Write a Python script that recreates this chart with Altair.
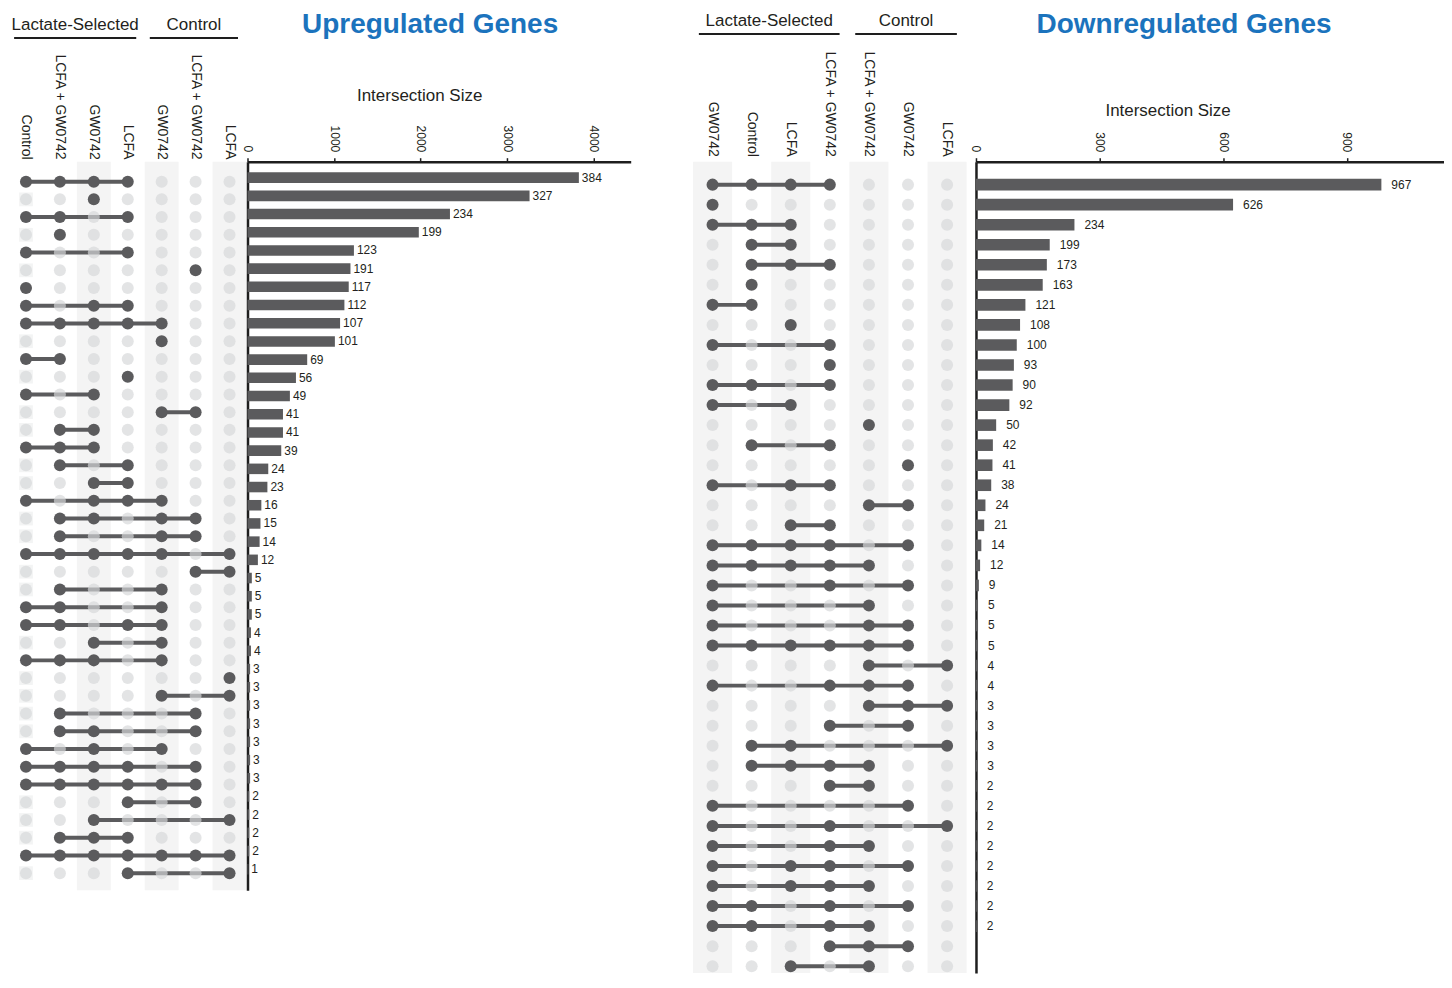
import altair as alt
import pandas as pd

# ------------------------------------------------------------------ data
up_columns = ["Control", "LCFA + GW0742", "GW0742", "LCFA",
              "GW0742", "LCFA + GW0742", "LCFA"]
up_groups = ["Lactate-Selected"] * 4 + ["Control"] * 3
# active columns of every intersection row (1-based column indices)
up_sets = ["1234", "3", "124", "2", "14", "6", "1", "134", "12345", "5",
           "12", "4", "13", "56", "23", "123", "24", "34", "1345",
           "2356", "256", "123457", "67", "25", "125", "1245", "35", "1235",
           "7", "57", "26", "236", "135", "12346", "123456", "46", "37",
           "234", "1234567", "47"]
up_sizes = [3830, 3260, 2340, 1980, 1230, 1190, 1170, 1120, 1070, 1010,
            690, 560, 490, 410, 410, 390, 240, 230, 160, 150, 140, 120,
            50, 50, 50, 40, 40, 30, 30, 30, 30, 30, 30, 30, 20, 20, 20, 20, 10]
up_labels = ["384", "327", "234", "199", "123", "191", "117", "112", "107", "101",
             "69", "56", "49", "41", "41", "39", "24", "23", "16", "15", "14", "12",
             "5", "5", "5", "4", "4", "3", "3", "3", "3", "3", "3", "3",
             "2", "2", "2", "2", "1"]
up_ticks = [0, 1000, 2000, 3000, 4000]

down_columns = ["GW0742", "Control", "LCFA", "LCFA + GW0742",
                "LCFA + GW0742", "GW0742", "LCFA"]
down_groups = ["Lactate-Selected"] * 4 + ["Control"] * 3
down_sets = ["1234", "1", "123", "23", "234", "2", "12", "3", "14", "4",
             "124", "13", "5", "24", "6", "134", "56", "34", "12346", "12345",
             "146", "15", "156", "123456", "57", "1456", "567", "46", "237", "2345",
             "45", "16", "147", "145", "1346", "1345", "1246", "1245", "456", "35"]
down_sizes = [984, 624, 239, 179, 172, 162, 120, 107, 99, 92, 89, 81,
              49, 41, 40, 37, 23, 20, 13, 10, 7, 5, 5, 5, 4, 4, 3, 3, 3, 3,
              2, 2, 2, 2, 2, 2, 2, 2]
down_labels = ["967", "626", "234", "199", "173", "163", "121", "108", "100", "93",
               "90", "92", "50", "42", "41", "38", "24", "21", "14", "12", "9",
               "5", "5", "5", "4", "4", "3", "3", "3", "3",
               "2", "2", "2", "2", "2", "2", "2", "2"]
down_ticks = [0, 300, 600, 900]

# ------------------------------------------------------------------ style
DARK = "#5b5b5d"
INACT = "#d6d7d9"
BAND = "#f4f4f4"
TXT = "#231f20"
AX = "#1e1e1e"
FONT = "Liberation Sans"
BLUE = "#1b73bd"


def build(columns, groups, sets, sizes, labels, ticks, title, st):
    ncol = len(columns)
    xs = alt.Scale(domain=st["xdom"], nice=False, zero=False)
    ys = alt.Scale(domain=st["ydom"], reverse=True, nice=False, zero=False)

    def X(f):
        return alt.X(f, type="quantitative", scale=xs, axis=None)

    def Y(f):
        return alt.Y(f, type="quantitative", scale=ys, axis=None)

    cells = []
    links = []
    for r, s in enumerate(sets, start=1):
        act = [int(c) for c in s]
        for c in range(1, ncol + 1):
            cells.append({"row": r, "col": c, "active": c in act})
        if len(act) > 1:
            links.append({"row": r, "c0": min(act), "c1": max(act)})
    cells = pd.DataFrame(cells)
    links = pd.DataFrame(links)

    bands = pd.DataFrame({"b0": [c - 0.5 for c in st["shaded"]],
                          "b1": [c + 0.5 for c in st["shaded"]],
                          "yt": st["ydom"][0], "yb": st["ydom"][1]})

    layers = [
        alt.Chart(bands).mark_rect(color=BAND).encode(
            x=X("b0"), x2=alt.X2("b1"), y=Y("yt"), y2=alt.Y2("yb")),
    ]
    if st.get("square_col"):
        sq = cells[(cells.col == st["square_col"]) & (~cells.active)]
        layers.append(alt.Chart(sq).mark_square(size=190, color="#eeeff0").encode(
            x=X("col"), y=Y("row")))
    layers += [
        alt.Chart(links).mark_rule(color=DARK, strokeWidth=4).encode(
            x=X("c0"), x2=alt.X2("c1"), y=Y("row")),
        alt.Chart(cells[~cells.active]).mark_circle(size=145, color=INACT, opacity=0.68).encode(
            x=X("col"), y=Y("row")),
        alt.Chart(cells[cells.active]).mark_circle(size=145, color=DARK, opacity=1).encode(
            x=X("col"), y=Y("row")),
    ]

    # column labels
    cl = pd.DataFrame({"col": list(range(1, ncol + 1)), "name": columns,
                       "ly": st["collab_y"]})
    layers.append(alt.Chart(cl).mark_text(angle=90, align="right", baseline="middle",
                                          fontSize=14, color=TXT, font=FONT).encode(
        x=X("col"), y=Y("ly"), text="name:N"))

    # group labels + underlines
    gnames = list(dict.fromkeys(groups))
    grows = []
    for g in gnames:
        idx = [i + 1 for i, gg in enumerate(groups) if gg == g]
        a, b = idx[0] - 0.35, idx[-1] + 0.25
        grows.append({"g": g, "a": a, "b": b, "m": (a + b) / 2,
                      "ty": st["group_y"], "ly": st["line_y"]})
    gdf = pd.DataFrame(grows)
    layers.append(alt.Chart(gdf).mark_text(fontSize=17, color=TXT, font=FONT,
                                           baseline="middle").encode(
        x=X("m"), y=Y("ty"), text="g:N"))
    layers.append(alt.Chart(gdf).mark_rule(color=AX, strokeWidth=2).encode(
        x=X("a"), x2=alt.X2("b"), y=Y("ly")))

    matrix = alt.layer(*layers).properties(width=st["mw"], height=st["h"])

    # bars
    n = len(sizes)
    bdf = pd.DataFrame({"row": list(range(1, n + 1)), "size": sizes, "label": labels})
    bdf["zero"] = 0
    bdf["y0"] = bdf["row"] - st["bh"]
    bdf["y1"] = bdf["row"] + st["bh"]
    bs = alt.Scale(domain=[0, st["xmax"]], nice=False, zero=True)
    bys = alt.Scale(domain=st["bar_ydom"], reverse=True, nice=False, zero=False)
    xaxis = alt.Axis(
        orient="top", values=ticks, format="d", labelAngle=90, labelAlign="right",
        labelBaseline="middle", labelFontSize=12, labelColor=TXT, labelFont=FONT,
        tickSize=4, tickColor=AX, tickWidth=1.5, labelPadding=6,
        domainWidth=2.5, domainColor=AX, grid=False,
        title="Intersection Size", titleFontSize=17, titleFontWeight="normal",
        titleColor=TXT, titleFont=FONT, titleX=st["tx"], titleY=st["ty"],
        titleBaseline="middle", titleAlign="center")
    yaxis = alt.Axis(orient="left", labels=False, ticks=False, grid=False, title="",
                     domainWidth=2.5, domainColor=AX)

    rects = alt.Chart(bdf).mark_rect(color=DARK).encode(
        x=alt.X("size:Q", scale=bs, axis=xaxis),
        x2=alt.X2("zero"),
        y=alt.Y("y0:Q", scale=bys, axis=yaxis),
        y2=alt.Y2("y1"),
    )
    txt = alt.Chart(bdf).mark_text(align="left", baseline="middle", dx=st["ldx"],
                                   fontSize=12, color=TXT, font=FONT).encode(
        x=alt.X("size:Q", scale=bs, axis=xaxis),
        y=alt.Y("row:Q", scale=bys, axis=yaxis),
        text="label:N")
    bars = alt.layer(rects, txt).properties(
        width=st["bw"], height=st["h"],
        title=alt.TitleParams(title, fontSize=28, fontWeight="bold", color=BLUE,
                              font=FONT, anchor="middle", dx=st["tdx"],
                              offset=st["toff"]))
    return matrix, bars


lm, lb = build(up_columns, up_groups, up_sets, up_sizes, up_labels, up_ticks,
               "Upregulated Genes",
               dict(xdom=[0.47, 7.53], ydom=[-0.125, 40.96], bar_ydom=[0.123, 40.15],
                    mw=240, bw=384, h=730, xmax=4429, shaded=[3, 5, 7], square_col=1,
                    collab_y=-0.24, group_y=-7.83, line_y=-7.10, bh=0.29,
                    tx=172, ty=-66, ldx=3, tdx=-9, toff=48))

# right matrix panel also covers the 62px gap between the two halves
rm, rb = build(down_columns, down_groups, down_sets, down_sizes, down_labels, down_ticks,
               "Downregulated Genes",
               dict(xdom=[-1.094, 7.739], ydom=[-0.145, 40.34], bar_ydom=[-0.145, 40.34],
                    mw=346, bw=469, h=813, xmax=1136, shaded=[1, 3, 5, 7], square_col=None,
                    collab_y=-0.39, group_y=-7.17, line_y=-6.52, bh=0.29,
                    tx=192, ty=-51, ldx=10, tdx=-26, toff=63))

chart = alt.hconcat(
    lm, lb, rm, rb, spacing=0, bounds="flush",
    padding={"left": 0, "top": 2, "right": 0, "bottom": 0},
).resolve_scale(
    x="independent", y="independent"
).configure(font=FONT).configure_view(stroke="transparent", strokeWidth=0)

chart.save("out.html", embed_options={"renderer": "svg", "actions": False})
